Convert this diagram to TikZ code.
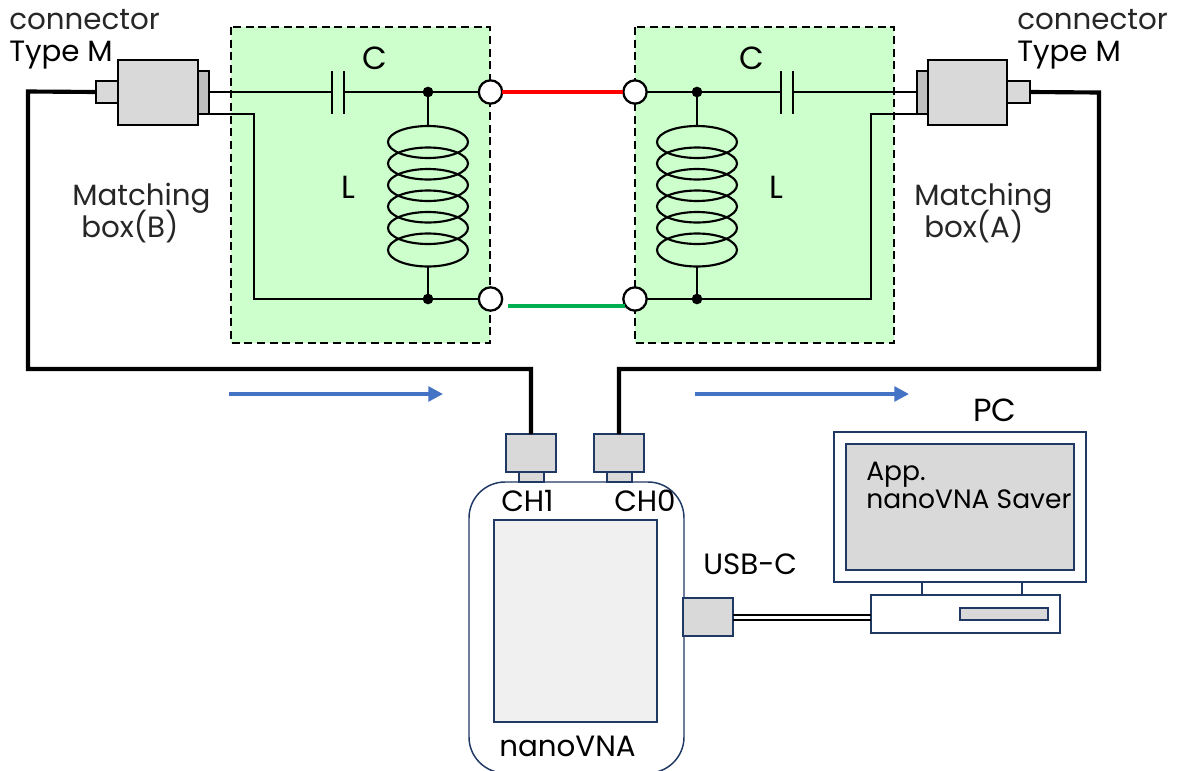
\documentclass[tikz,border=0pt]{standalone}
\usepackage{fontspec}
\setmainfont{Poppins}
\usetikzlibrary{arrows.meta}
\definecolor{navy}{HTML}{1F3864}
\definecolor{lgreen}{HTML}{CCFFCC}
\definecolor{lgray}{HTML}{D9D9D9}
\definecolor{mgray}{HTML}{BFBFBF}
\definecolor{scr}{HTML}{F0F0F0}
\definecolor{txt}{HTML}{262626}
\definecolor{wblue}{HTML}{4472C4}
\definecolor{wgreen}{HTML}{00B050}
\tikzset{
  x=0.75pt,y=-0.75pt,
  sz/.style 2 args={minimum width=#1*0.75pt,minimum height=#2*0.75pt,inner sep=0pt,outer sep=0pt},
  greenbox/.style={fill=lgreen,inner sep=0pt,outer sep=0pt},
  dashedge/.style={draw=black,line width=1.5pt,dash pattern=on 6pt off 3.5pt},
  conbk/.style={draw=black,line width=1.8pt,fill=lgray},
  conbkd/.style={draw=black,line width=1.8pt,fill=mgray},
  navybox/.style={draw=navy,line width=1.9pt,fill=lgray},
  navyplain/.style={draw=navy,line width=1.9pt,fill=white},
  wire/.style={draw=black,line width=1.6pt},
  cable/.style={draw=black,line width=3.1pt,line join=miter},
  term/.style={circle,draw=black,line width=1.7pt,fill=white,minimum size=17.5pt,inner sep=0pt,outer sep=0pt},
  jun/.style={circle,fill=black,minimum size=8pt,inner sep=0pt,outer sep=0pt},
  coilring/.style={draw=black,line width=1.6pt},
  flow/.style={draw=wblue,line width=2.6pt,-{Triangle[length=11pt,width=11pt]}},
  lab/.style={anchor=base west,inner sep=0pt,font=\fontsize{22}{26}\selectfont,text=black},
  biglab/.style={lab,font=\fontsize{24}{28}\selectfont},
  applab/.style={lab,font=\fontsize{19.9}{24}\selectfont},
  glab/.style={lab,text=txt},
}
\newcommand{\coilat}[2]{%
  \foreach \cy in {142,163.5,185,206.5,228}{\draw[coilring] (#1,\cy) ellipse (40 and 16);}
  \draw[coilring] (#1,250) ellipse (40 and 16.5);
}
\begin{document}
\begin{tikzpicture}
\useasboundingbox (0,0) rectangle (1182,771);
% matching boxes
\node[greenbox,sz={259}{316}] (boxB) at (360.5,185) {};
\node[greenbox,sz={259}{316}] (boxA) at (764.5,185) {};
\draw[dashedge] (boxB.north west) rectangle (boxB.south east);
\draw[dashedge] (boxA.north west) rectangle (boxA.south east);
% left connector
\node[conbk,sz={22}{22}] (mbs) at (107,92) {};
\node[conbkd,sz={11}{43}] (mbf) at (203.5,92.5) {};
\node[conbk,sz={80}{65}] (mbb) at (158,92.5) {};
% right connector
\node[conbk,sz={23}{22}] (mas) at (1018.5,92) {};
\node[conbkd,sz={11}{43}] (maf) at (922.5,92.5) {};
\node[conbk,sz={79}{65}] (mab) at (967.5,92.5) {};
% terminals and junctions
\coordinate (cb1) at (332,92); \coordinate (cb2) at (344,92);
\coordinate (ca1) at (781,92); \coordinate (ca2) at (793,92);
\node[jun] (jbt) at (428,92) {};
\node[jun] (jbb) at (428,299) {};
\node[jun] (jat) at (697,92) {};
\node[jun] (jab) at (697,299) {};
\coordinate (lbtop) at (428,125); \coordinate (lbbot) at (428,267);
\coordinate (latop) at (697,125); \coordinate (labot) at (697,267);
\coordinate (bcorner) at (254,114); \coordinate (bcorner2) at (254,299);
\coordinate (acorner) at (871,114); \coordinate (acorner2) at (871,299);
% circuit B
\draw[wire] (mbf.east |- cb1) -- (cb1);
\draw[wire] (332,71) -- (332,114);
\draw[wire] (344,71) -- (344,114);
\draw[wire] (cb2) -- (jbt) -- (478,92);
\draw[wire] (198,114) -- (bcorner) -- (bcorner2) -- (jbb) -- (479,299);
\draw[wire] (jbt) -- (lbtop);
\draw[wire] (lbbot) -- (jbb);
\coilat{428}{}
% circuit A
\draw[wire] (647,92) -- (jat) -- (ca1);
\draw[wire] (781,71) -- (781,114);
\draw[wire] (793,71) -- (793,114);
\draw[wire] (ca2) -- (maf.west |- ca2);
\draw[wire] (647,299) -- (jab) -- (acorner2) -- (acorner) -- (928,114);
\draw[wire] (jat) -- (latop);
\draw[wire] (labot) -- (jab);
\coilat{697}{}
% terminals
\node[term] (tbt) at (490.5,92) {};
\node[term] (tbb) at (490.5,299) {};
\node[term] (tat) at (635,92) {};
\node[term] (tab) at (635,299) {};
% jumpers
\draw[red,line width=3pt] (tbt) -- (tat);
\coordinate (gs) at (508,306); \coordinate (ge) at (625,306);
\draw[wgreen,line width=3pt] (gs) -- (ge);
% nanoVNA
\node[draw=navy,line width=1.1pt,fill=white,rounded corners=27pt,sz={215}{291}] (vna) at (576.5,627.5) {};
\node[draw=navy,line width=1.1pt,fill=scr,sz={163}{202}] (screen) at (575.5,621) {};
\node[navybox,sz={25}{10}] (p1) at (531.5,477) {};
\node[navybox,sz={25}{10}] (p0) at (619.5,477) {};
\node[navybox,sz={50}{38}] (c1) at (531,453) {};
\node[navybox,sz={50}{38}] (c0) at (619,453) {};
\node[navybox,sz={50}{38}] (usb) at (708,617) {};
% cables
\coordinate (l1) at (28,91.5); \coordinate (l2) at (28,369);
\coordinate (r1) at (1099,92.5); \coordinate (r2) at (1099,369);
\draw[cable] (mbs.west) -- (l1) -- (l2) -- (l2 -| c1.north) -- (c1.north);
\draw[cable] (mas.east) -- (r1) -- (r2) -- (r2 -| c0.north) -- (c0.north);
% PC
\node[navyplain,sz={252}{150}] (mon) at (960,507) {};
\node[navybox,sz={228}{126}] (disp) at (960,507) {};
\node[navyplain,sz={100}{14}] (neck) at (972,589) {};
\node[navyplain,sz={189}{38}] (base) at (965.5,614) {};
\node[draw=navy,line width=1.1pt,fill=lgray,sz={88}{12}] (slot) at (1004,614) {};
% usb cable
\draw[black,line width=1.4pt] (usb.east |- 0,615) -- (base.west |- 0,615);
\draw[black,line width=1.4pt] (usb.east |- 0,620) -- (base.west |- 0,620);
% arrows
\coordinate (a1s) at (229,394); \coordinate (a1e) at (443,394);
\coordinate (a2s) at (695,394); \coordinate (a2e) at (909,394);
\draw[flow] (a1s) -- (a1e);
\draw[flow] (a2s) -- (a2e);
% labels
\node[glab] (t1) at (9,29) {connector};
\node[lab] (t2) at (9,61) {Type M};
\node[glab] (t3) at (1017,29) {connector};
\node[lab] (t4) at (1017,61) {Type M};
\node[glab] (t5) at (72,205) {Matching};
\node[glab] (t6) at (81,237) {box(B)};
\node[glab] (t7) at (914,205) {Matching};
\node[glab] (t8) at (924,237) {box(A)};
\node[biglab] (t9) at (362,69) {C};
\node[biglab] (t10) at (739,69) {C};
\node[biglab] (t11) at (341,198) {L};
\node[biglab] (t12) at (769,198) {L};
\node[lab] (t13) at (501,511) {CH1};
\node[lab] (t14) at (614,511) {CH0};
\node[lab] (t15) at (703,574) {USB-C};
\node[biglab] (t16) at (973,421) {PC};
\node[applab] (t17) at (866,480) {App.};
\node[applab] (t18) at (866,508) {nanoVNA Saver};
\node[lab] (t19) at (499,756) {nanoVNA};
\end{tikzpicture}
\end{document}
